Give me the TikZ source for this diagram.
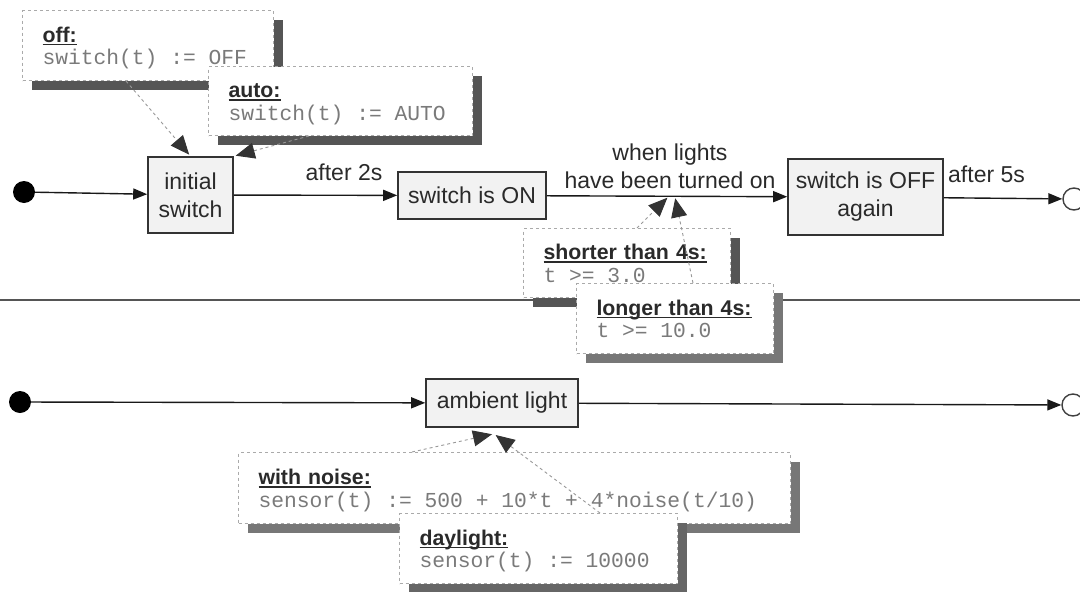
\documentclass[tikz,border=0pt]{standalone}
\usepackage{fontspec}
\setmainfont{Liberation Sans}
\newfontfamily\monofont{Liberation Mono}
\usetikzlibrary{arrows.meta,shadows,calc}
\definecolor{boxfill}{HTML}{F2F2F2}
\definecolor{boxline}{HTML}{333333}
\definecolor{txt}{HTML}{2A2A2A}
\definecolor{monogray}{HTML}{7A7A7A}
\definecolor{notebd}{HTML}{AAAAAA}
\definecolor{shadowA}{HTML}{555555}
\definecolor{shadowB}{HTML}{777777}
\definecolor{shadowC}{HTML}{666666}
\definecolor{connline}{HTML}{999999}
\definecolor{conntip}{HTML}{333333}
\definecolor{sepline}{HTML}{555555}
\newsavebox\hdbox
\newcommand\ulhead[1]{\sbox\hdbox{\bfseries #1}\rule{0pt}{22pt}\rlap{\rule[-3pt]{\wd\hdbox}{1.3pt}}\usebox\hdbox}
\newcommand\mono[1]{\mbox{\monofont\spaceskip=0.6em\xspaceskip=0.6em\relax\color{monogray}\rule[-6pt]{0pt}{6pt}#1}}
\begin{document}
\begin{tikzpicture}[x=1pt,y=-1pt,
  state/.style={draw=boxline, line width=1.6pt, fill=boxfill, text=txt,
    font=\fontsize{23}{28}\selectfont, align=center, inner sep=0pt},
  lbl/.style={text=txt, font=\fontsize{23}{28}\selectfont, inner sep=0pt, align=center},
  note/.style={draw=notebd, line width=1pt, dash pattern=on 3pt off 3pt, fill=white,
    anchor=north west, align=left, inner xsep=20pt, inner ysep=0pt, text=txt,
    font=\fontsize{21.3}{22.5}\selectfont},
  shA/.style={drop shadow={shadow xshift=9pt, shadow yshift=-9pt, fill=shadowA, opacity=1}},
  shB/.style={drop shadow={shadow xshift=9pt, shadow yshift=-9pt, fill=shadowB, opacity=1}},
  shC/.style={drop shadow={shadow xshift=9pt, shadow yshift=-9pt, fill=shadowC, opacity=1}},
  trans/.style={draw=black!90, line width=1.4pt, -{Triangle[length=14pt,width=11pt]}},
  conn/.style={draw=connline, line width=0.9pt, dash pattern=on 3pt off 3pt,
    -{Triangle[length=19pt,width=16pt,color=conntip]}, shorten >=2pt},
  startdot/.style={circle, fill=black, minimum size=22pt, inner sep=0pt},
  enddot/.style={circle, draw=black!75, line width=1.4pt, fill=white, minimum size=22pt, inner sep=0pt}
]
\useasboundingbox (0,0) rectangle (1080,592);

% ---------- top lane ----------
\node[startdot] (i1) at (24,192) {};
\node[state, minimum width=85pt, minimum height=76pt] (s1) at (190.5,195) {initial\\switch};
\node[state, minimum width=148pt, minimum height=47pt] (s2) at (472,195.5) {switch is ON};
\node[state, minimum width=155pt, minimum height=76pt] (s3) at (865.5,197) {switch is OFF\\again};
\node[enddot] (f1) at (1074,199) {};

\draw[trans] (i1) -- (s1);
\draw[trans] (s1) -- (s2);
\draw[trans] (s2) -- (s3);
\draw[trans] (s3) -- (f1);

\node[lbl, anchor=base] (l12) at (344,180) {after 2s};
\node[lbl] (l23) at (670,166) {when lights\\have been turned on};
\node[lbl, anchor=base west] (l3f) at (948,182) {after 5s};

% ---------- separator ----------
\coordinate (sepL) at (0,300);
\coordinate (sepR) at (1080,300);
\draw[sepline, line width=2pt] (sepL) -- (sepR);

% ---------- bottom lane ----------
\node[startdot] (i2) at (20,402) {};
\node[state, minimum width=152pt, minimum height=48pt] (s4) at (502,403) {ambient light};
\node[enddot] (f2) at (1073,405) {};
\draw[trans] (i2) -- (s4);
\draw[trans] (s4) -- (f2);

% ---------- notes ----------
\node[note, shA, text width=211pt, minimum height=70pt] (noff) at (22,10)
  {\ulhead{off:}\\\mono{switch(t) := OFF}};
\node[note, shA, text width=224pt, minimum height=69pt] (nauto) at (208,66)
  {\ulhead{auto:}\\\mono{switch(t) := AUTO}};
\node[note, shA, text width=167pt, minimum height=69pt] (nshort) at (523,228)
  {\ulhead{shorter than 4s:}\\\mono{t >= 3.0}};
\node[note, shB, text width=157pt, minimum height=70pt] (nlong) at (576,283)
  {\ulhead{longer than 4s:}\\\mono{t >= 10.0}};
\node[note, shB, text width=512pt, minimum height=71pt] (nnoise) at (238,452)
  {\ulhead{with noise:}\\\mono{sensor(t) := 500 + 10*t + 4*noise(t/10)}};
\node[note, shC, text width=238pt, minimum height=70pt] (nday) at (399,513)
  {\ulhead{daylight:}\\\mono{sensor(t) := 10000}};

% ---------- note connectors ----------
\coordinate (t23) at ($(s2.east)!0.52!(s3.west)$);
\coordinate (c4) at ($(s4.south)+(-8,6)$);
\draw[conn] ($(noff.south west)+(104,0)$) -- (s1.north);
\draw[conn] ($(nauto.south west)+(101,0)$) -- (s1.north east);
\draw[conn] ($(nshort.north west)+(114,0)$) -- ($(t23)+(-3,0)$);
\draw[conn] ($(nlong.north west)+(117,0)$) -- ($(t23)+(3,0)$);
\draw[conn] ($(nnoise.north west)+(174,0)$) -- (c4);
\draw[conn] ($(nday.north west)+(201,0)$) -- (c4);
\end{tikzpicture}
\end{document}
